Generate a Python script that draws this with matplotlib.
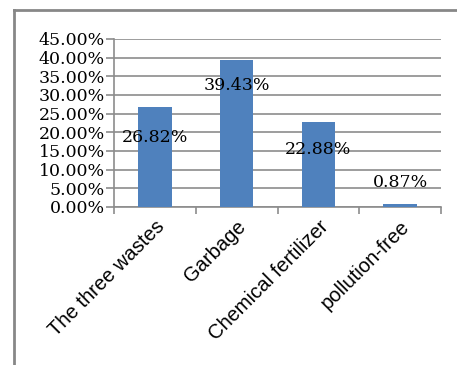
import matplotlib
matplotlib.use('Agg')
import matplotlib.pyplot as plt
from matplotlib.lines import Line2D
import numpy as np

# chart data
categories = ['The three wastes', 'Garbage', 'Chemical fertilizer', 'pollution-free']
shares = [26.82, 39.43, 22.88, 0.87]
value_labels = ['26.82%', '39.43%', '22.88%', '0.87%']
y_ticks = [0, 5, 10, 15, 20, 25, 30, 35, 40, 45]

# label placement relative to the top of each bar (pixels, as in the original chart)
label_offsets_px = [-31, -26, -28, 21]

bar_color = '#4F81BD'
grid_color = '#8C8C8C'

fig = plt.figure(figsize=(4.57, 3.65), dpi=100)
ax = fig.add_axes([0.2495, 0.4329, 0.7155, 0.4603])

x = np.arange(len(categories))
ax.bar(x, shares, width=0.41, color=bar_color, zorder=3)

ax.set_xlim(-0.5, len(categories) - 0.5)
ax.set_ylim(0, 45)
ax.set_yticks(y_ticks)
ax.set_yticklabels([f'{t:.2f}%' for t in y_ticks], family='DejaVu Serif', fontsize=12.5)
ax.yaxis.grid(True, color=grid_color, linewidth=1.2, zorder=0)

# x ticks at category boundaries, labels at category centres
ax.set_xticks(np.arange(-0.5, len(categories)), minor=False)
ax.set_xticklabels([])
ax.set_xticks(x, minor=True)
ax.set_xticklabels(categories, minor=True, rotation=45, ha='right', va='top',
                   rotation_mode='anchor', family='Liberation Sans', fontsize=14.5)
ax.tick_params(axis='x', which='minor', length=0, pad=7)
ax.tick_params(axis='x', which='major', length=5, color=grid_color, width=1.2)
ax.tick_params(axis='y', length=6, color=grid_color, width=1.2, pad=0.5)

for s in ['top', 'right']:
    ax.spines[s].set_visible(False)
for s in ['left', 'bottom']:
    ax.spines[s].set_color(grid_color)
    ax.spines[s].set_linewidth(1.2)

for xi, val, lab, off in zip(x, shares, value_labels, label_offsets_px):
    ax.annotate(lab, (xi, val), xytext=(0, off * 0.72), textcoords='offset points',
                ha='center', va='center', family='DejaVu Serif', fontsize=12.5, zorder=4)

# chart area border: only the left and top edges fall inside the picture
bx, by = 14 / 457, 1 - 10 / 365
fig.add_artist(Line2D([bx, bx], [0, by], transform=fig.transFigure, color='#878787', linewidth=2))
fig.add_artist(Line2D([bx, 1], [by, by], transform=fig.transFigure, color='#878787', linewidth=2))

fig.savefig('out.png', dpi=100)
